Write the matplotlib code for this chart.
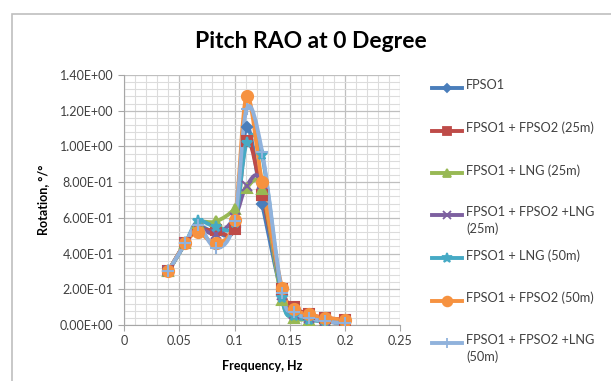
import matplotlib.pyplot as plt
import numpy as np
from matplotlib.path import Path
from matplotlib.patches import PathPatch, Rectangle
from matplotlib.lines import Line2D
from matplotlib.ticker import MultipleLocator, FuncFormatter

plt.rcParams['font.family'] = ['Lato', 'DejaVu Sans']

# frequency (Hz)
freq = [0.04, 0.0556, 0.0667, 0.0833, 0.1, 0.111, 0.125, 0.143, 0.154, 0.167, 0.182, 0.2]

# pitch RAO per configuration
fpso1 = [0.30, 0.46, 0.55, 0.52, 0.55, 1.11, 0.68, 0.17, 0.07, 0.05, 0.03, 0.02]
fpso1_fpso2_25 = [0.30, 0.46, 0.53, 0.53, 0.54, 1.03, 0.73, 0.20, 0.10, 0.06, 0.04, 0.03]
fpso1_lng_25 = [0.30, 0.46, 0.57, 0.58, 0.65, 0.77, 0.76, 0.14, 0.04, 0.03, 0.02, 0.01]
fpso1_fpso2_lng_25 = [0.30, 0.46, 0.54, 0.51, 0.60, 0.78, 0.79, 0.17, 0.06, 0.04, 0.02, 0.01]
fpso1_lng_50 = [0.30, 0.46, 0.58, 0.55, 0.57, 1.02, 0.95, 0.15, 0.05, 0.03, 0.02, 0.01]
fpso1_fpso2_50 = [0.30, 0.46, 0.52, 0.46, 0.59, 1.28, 0.80, 0.21, 0.09, 0.06, 0.04, 0.03]
fpso1_fpso2_lng_50 = [0.30, 0.46, 0.56, 0.43, 0.58, 1.21, 0.97, 0.18, 0.07, 0.04, 0.02, 0.01]

labels = ['FPSO1', 'FPSO1 + FPSO2 (25m)', 'FPSO1 + LNG (25m)',
          'FPSO1 + FPSO2 +LNG\n(25m)', 'FPSO1 + LNG (50m)',
          'FPSO1 + FPSO2 (50m)', 'FPSO1 + FPSO2 +LNG\n(50m)']
series = [fpso1, fpso1_fpso2_25, fpso1_lng_25, fpso1_fpso2_lng_25,
          fpso1_lng_50, fpso1_fpso2_50, fpso1_fpso2_lng_50]
colors = ['#4A7EBB', '#BE4B48', '#98B954', '#7D60A0', '#46AAC5', '#F69240', '#90B2DC']
markers = ['D', 's', '^', 'x', '*', 'o', '+']
msizes = [5, 7, 7, 7, 8, 8, 8]


def smooth_path(xs, ys):
    # Excel-style smoothed line: cubic Bezier through each point
    pts = np.column_stack([xs, ys])
    n = len(pts)
    verts = [pts[0]]
    codes = [Path.MOVETO]
    for i in range(n - 1):
        p0 = pts[i - 1] if i > 0 else pts[i]
        p1 = pts[i]
        p2 = pts[i + 1]
        p3 = pts[i + 2] if i + 2 < n else pts[i + 1]
        verts += [p1 + (p2 - p0) / 6, p2 - (p3 - p1) / 6, p2]
        codes += [Path.CURVE4] * 3
    return Path(verts, codes)


fig = plt.figure(figsize=(6.11, 3.81), dpi=100)
fig.patches.append(Rectangle((0.0196, -0.05), 1.1, 0.963 + 0.05, transform=fig.transFigure,
                             fill=False, edgecolor='#BFBFBF', linewidth=1.2))

ax = fig.add_axes([0.203, 0.147, 0.452, 0.656])
for ys, c, m, ms in zip(series, colors, markers, msizes):
    ax.add_patch(PathPatch(smooth_path(freq, ys), fill=False, edgecolor=c,
                           linewidth=2.8, zorder=3, capstyle='round', joinstyle='round'))
    ax.plot(freq, ys, linestyle='none', marker=m, color=c, markersize=ms,
            markeredgewidth=1.5, zorder=4)

ax.set_xlim(0, 0.25)
ax.set_ylim(0, 1.4)
ax.xaxis.set_major_locator(MultipleLocator(0.05))
ax.xaxis.set_minor_locator(MultipleLocator(0.01))
ax.yaxis.set_major_locator(MultipleLocator(0.2))
ax.yaxis.set_minor_locator(MultipleLocator(0.04))
ax.xaxis.set_major_formatter(FuncFormatter(lambda v, p: f"{v:.2f}".rstrip('0').rstrip('.') if v else '0'))
ax.yaxis.set_major_formatter(FuncFormatter(lambda v, p: f"{v:.2E}"))
ax.grid(which='major', color='#BFBFBF', linewidth=0.9)
ax.grid(which='minor', color='#DCDCDC', linewidth=0.8)
ax.set_axisbelow(True)
for s in ['top', 'right']:
    ax.spines[s].set_visible(False)
for s in ['left', 'bottom']:
    ax.spines[s].set_color('#A6A6A6')
ax.tick_params(which='major', length=4, color='#A6A6A6', labelsize=9, labelcolor='#404040')
ax.tick_params(which='minor', length=0)
ax.set_xlabel('Frequency, Hz', fontweight='bold', fontsize=9, labelpad=9)
ax.set_ylabel('Rotation, °/°', fontweight='bold', fontsize=9, labelpad=8)

fig.text(0.508, 0.89, 'Pitch RAO at 0 Degree', ha='center', va='center',
         fontsize=16.5, fontweight='bold')

# legend drawn on the right, fixed slot per entry
for i, (lab, c, m, ms) in enumerate(zip(labels, colors, markers, msizes)):
    yp = 1 - (88 + 42.5 * i) / 381
    fig.add_artist(Line2D([432 / 611, 462 / 611], [yp, yp], color=c, linewidth=2.8,
                          transform=fig.transFigure))
    fig.add_artist(Line2D([447 / 611], [yp], color=c, marker=m, markersize=ms - 1,
                          markeredgewidth=1.3, transform=fig.transFigure))
    fig.text(466 / 611, yp + 9 / 381, lab, ha='left', va='top', fontsize=9.2,
             color='#404040', linespacing=1.4)

fig.savefig('out.png', dpi=100)
